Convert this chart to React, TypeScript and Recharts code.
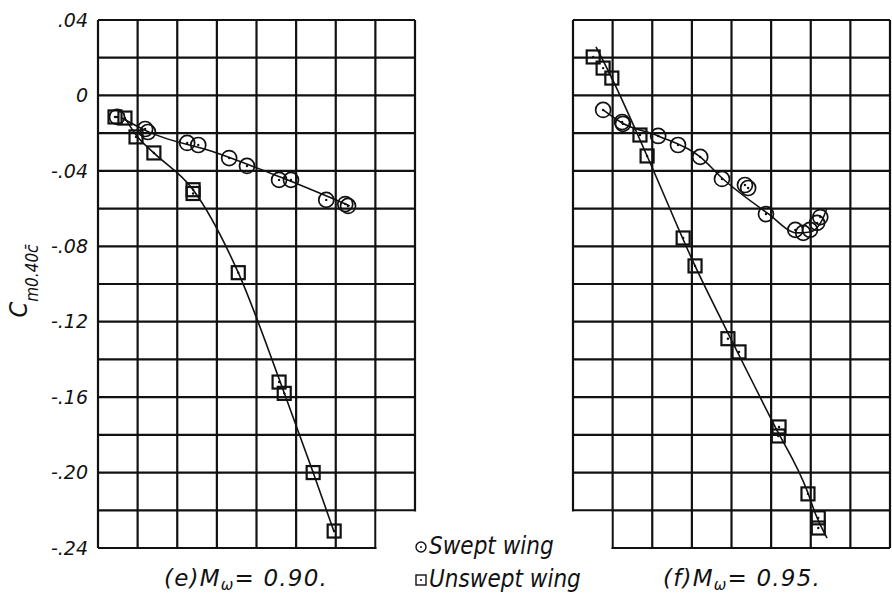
import React from "react";
import {
  ComposedChart,
  Line,
  Scatter,
  XAxis,
  YAxis,
  CartesianGrid,
  ReferenceArea,
  Label,
} from "recharts";

// ---------- axes ----------
const xTicks = [0, 1, 2, 3, 4, 5, 6, 7, 8];
const yTicks = [
  0.04, 0.02, 0, -0.02, -0.04, -0.06, -0.08, -0.1, -0.12, -0.14, -0.16, -0.18,
  -0.2, -0.22, -0.24,
];
const yTickLabels: Record<string, string> = {
  "0.04": ".04",
  "0.00": "0",
  "-0.04": "-.04",
  "-0.08": "-.08",
  "-0.12": "-.12",
  "-0.16": "-.16",
  "-0.20": "-.20",
  "-0.24": "-.24",
};

// ---------- panel (e) M = 0.90 ----------
const sweptE = [
  { x: 0.48, y: -0.0114 },
  { x: 1.19, y: -0.0178 },
  { x: 1.26, y: -0.0194 },
  { x: 2.25, y: -0.0252 },
  { x: 2.53, y: -0.0263 },
  { x: 3.31, y: -0.0332 },
  { x: 3.76, y: -0.0374 },
  { x: 4.57, y: -0.0448 },
  { x: 4.87, y: -0.0448 },
  { x: 5.76, y: -0.0554 },
  { x: 6.24, y: -0.0576 },
  { x: 6.31, y: -0.0586 },
];
const unsweptE = [
  { x: 0.43, y: -0.0114 },
  { x: 0.68, y: -0.012 },
  { x: 0.96, y: -0.022 },
  { x: 1.41, y: -0.0305 },
  { x: 2.4, y: -0.05 },
  { x: 2.4, y: -0.052 },
  { x: 3.54, y: -0.094 },
  { x: 4.57, y: -0.152 },
  { x: 4.7, y: -0.158 },
  { x: 5.43, y: -0.2 },
  { x: 5.96, y: -0.231 },
];
const sweptFairE = [
  { x: 0.6, y: -0.012 },
  { x: 1.26, y: -0.0192 },
  { x: 3.0, y: -0.0305 },
  { x: 4.6, y: -0.0433 },
  { x: 6.35, y: -0.0585 },
];
const unsweptFairE = [
  { x: 0.68, y: -0.012 },
  { x: 0.98, y: -0.0215 },
  { x: 1.41, y: -0.0305 },
  { x: 2.4, y: -0.05 },
  { x: 3.54, y: -0.094 },
  { x: 4.6, y: -0.152 },
  { x: 5.43, y: -0.2 },
  { x: 5.96, y: -0.2315 },
];

// ---------- panel (f) M = 0.95 ----------
const sweptF = [
  { x: 0.76, y: -0.0077 },
  { x: 1.24, y: -0.0141 },
  { x: 1.26, y: -0.0151 },
  { x: 2.15, y: -0.0215 },
  { x: 2.65, y: -0.0263 },
  { x: 3.21, y: -0.0326 },
  { x: 3.76, y: -0.0443 },
  { x: 4.34, y: -0.0475 },
  { x: 4.42, y: -0.0491 },
  { x: 4.87, y: -0.0629 },
  { x: 5.61, y: -0.0713 },
  { x: 5.81, y: -0.0729 },
  { x: 5.98, y: -0.0713 },
  { x: 6.16, y: -0.0676 },
  { x: 6.24, y: -0.0645 },
];
const unsweptF = [
  { x: 0.51, y: 0.0204 },
  { x: 0.76, y: 0.0145 },
  { x: 0.98, y: 0.0092 },
  { x: 1.69, y: -0.021 },
  { x: 1.87, y: -0.0321 },
  { x: 2.78, y: -0.0756 },
  { x: 3.08, y: -0.0904 },
  { x: 3.91, y: -0.129 },
  { x: 4.19, y: -0.136 },
  { x: 5.2, y: -0.1758 },
  { x: 5.18, y: -0.1806 },
  { x: 5.93, y: -0.2113 },
  { x: 6.19, y: -0.224 },
  { x: 6.19, y: -0.2294 },
];
const sweptFairF = [
  { x: 0.76, y: -0.0077 },
  { x: 1.24, y: -0.0146 },
  { x: 2.15, y: -0.0215 },
  { x: 3.21, y: -0.0326 },
  { x: 3.76, y: -0.0438 },
  { x: 4.9, y: -0.0623 },
  { x: 5.66, y: -0.0729 },
  { x: 5.98, y: -0.0724 },
  { x: 6.29, y: -0.066 },
  { x: 6.41, y: -0.0597 },
];
const unsweptFairF = [
  { x: 0.58, y: 0.0257 },
  { x: 0.98, y: 0.0092 },
  { x: 1.87, y: -0.0321 },
  { x: 3.08, y: -0.0904 },
  { x: 3.91, y: -0.126 },
  { x: 5.05, y: -0.1737 },
  { x: 5.93, y: -0.2108 },
  { x: 6.11, y: -0.2214 },
  { x: 6.41, y: -0.2347 },
];

// ---------- styling ----------
const INK = "#111";
const FONT = "'DejaVu Sans', sans-serif";
const FONT_COND = "'DejaVu Sans Condensed', 'DejaVu Sans', sans-serif";

const CircleMark = (props: any) => {
  const { cx, cy } = props;
  if (cx == null || cy == null) return <g />;
  return (
    <g>
      <circle cx={cx} cy={cy} r={7.5} fill="none" stroke={INK} strokeWidth={1.7} />
      <circle cx={cx} cy={cy} r={1.2} fill={INK} />
    </g>
  );
};

const SquareMark = (props: any) => {
  const { cx, cy } = props;
  if (cx == null || cy == null) return <g />;
  return (
    <g>
      <rect x={cx - 6.5} y={cy - 6.5} width={13} height={13} fill="none" stroke={INK} strokeWidth={2.2} />
      <circle cx={cx} cy={cy} r={1.2} fill={INK} />
    </g>
  );
};

const EmptyTick = () => <g />;

const fmtY = (v: number) => yTickLabels[v.toFixed(2)] ?? "";

const renderYLabel = () => (
  <text
    x={27}
    y={281}
    transform="rotate(-90, 27, 281)"
    textAnchor="middle"
    fontFamily={FONT_COND}
    fontStyle="italic"
    fill={INK}
  >
    <tspan fontSize={25}>C</tspan>
    <tspan fontSize={17} dy={11}>m0.40c̄</tspan>
  </text>
);

const makeCaption = (letter: string, mach: string, cx: number) => (props: any) => {
  const vb = props.viewBox || {};
  const y = (vb.y ?? 548) + 38;
  return (
    <text
      x={cx}
      y={y}
      textAnchor="middle"
      fontFamily={FONT}
      fontStyle="italic"
      fill={INK}
      fontSize={23}
      letterSpacing={1.2}
    >
      <tspan>({letter})M</tspan>
      <tspan fontSize={15} dy={4}>ω</tspan>
      <tspan dy={-4}>= {mach}.</tspan>
    </text>
  );
};

const Panel = ({
  swept,
  unswept,
  sweptFair,
  unsweptFair,
  showY,
  width,
  marginLeft,
  marginRight,
  caption,
  blankX,
}: any) => (
  <ComposedChart
    width={width}
    height={599}
    margin={{ top: 20, right: marginRight, left: marginLeft, bottom: 0 }}
  >
    <CartesianGrid stroke={INK} strokeWidth={2.2} horizontal vertical />
    <XAxis
      type="number"
      dataKey="x"
      domain={[0, 8]}
      ticks={xTicks}
      interval={0}
      allowDataOverflow
      tick={EmptyTick}
      tickLine={false}
      axisLine={false}
      height={51}
    >
      <Label content={caption} />
    </XAxis>
    <YAxis
      type="number"
      dataKey="y"
      domain={[-0.24, 0.04]}
      ticks={yTicks}
      interval={0}
      allowDataOverflow
      width={showY ? 98 : 0}
      tick={
        showY
          ? { fill: INK, fontSize: 19, fontFamily: FONT, fontStyle: "italic" }
          : EmptyTick
      }
      tickFormatter={fmtY}
      tickLine={false}
      axisLine={false}
      tickMargin={4}
    >
      {showY ? <Label content={renderYLabel} /> : null}
    </YAxis>
    <ReferenceArea
      x1={blankX[0]}
      x2={blankX[1]}
      y1={-0.2435}
      y2={-0.2207}
      fill="#fff"
      fillOpacity={1}
      stroke="none"
      ifOverflow="visible"
    />
    <Line
      data={sweptFair}
      dataKey="y"
      type="monotone"
      dot={false}
      stroke={INK}
      strokeWidth={1.6}
      isAnimationActive={false}
    />
    <Line
      data={unsweptFair}
      dataKey="y"
      type="monotone"
      dot={false}
      stroke={INK}
      strokeWidth={1.6}
      isAnimationActive={false}
    />
    <Scatter data={swept} dataKey="y" shape={CircleMark} isAnimationActive={false} />
    <Scatter data={unswept} dataKey="y" shape={SquareMark} isAnimationActive={false} />
  </ComposedChart>
);

export default function App() {
  return (
    <div
      style={{
        position: "absolute",
        left: 0,
        top: 0,
        width: 892,
        height: 599,
        background: "#fff",
        overflow: "hidden",
      }}
    >
      <div style={{ position: "absolute", left: 0, top: 0 }}>
        <Panel
          swept={sweptE}
          unswept={unsweptE}
          sweptFair={sweptFairE}
          unsweptFair={unsweptFairE}
          showY
          width={440}
          marginLeft={0}
          marginRight={25}
          caption={makeCaption("e", "0.90", 246)}
          blankX={[7.03, 8.1]}
        />
      </div>
      <div style={{ position: "absolute", left: 470, top: 0 }}>
        <Panel
          swept={sweptF}
          unswept={unsweptF}
          sweptFair={sweptFairF}
          unsweptFair={unsweptFairF}
          showY={false}
          width={422}
          marginLeft={103}
          marginRight={2}
          caption={makeCaption("f", "0.95", 272)}
          blankX={[-0.1, 0.97]}
        />
      </div>
      <div
        style={{
          position: "absolute",
          left: 414,
          top: 530,
          fontFamily: FONT_COND,
          fontStyle: "italic",
          fontSize: 24,
          color: INK,
          lineHeight: "33px",
        }}
      >
        <div style={{ display: "flex", alignItems: "center" }}>
          <svg width={14} height={14} style={{ marginRight: 1 }}>
            <circle cx={7} cy={7} r={5} fill="none" stroke={INK} strokeWidth={1.4} />
            <circle cx={7} cy={7} r={1} fill={INK} />
          </svg>
          <span>Swept wing</span>
        </div>
        <div style={{ display: "flex", alignItems: "center" }}>
          <svg width={14} height={14} style={{ marginRight: 1 }}>
            <rect x={2} y={2} width={10} height={10} fill="none" stroke={INK} strokeWidth={1.4} />
            <circle cx={7} cy={7} r={1} fill={INK} />
          </svg>
          <span>Unswept wing</span>
        </div>
      </div>
    </div>
  );
}
